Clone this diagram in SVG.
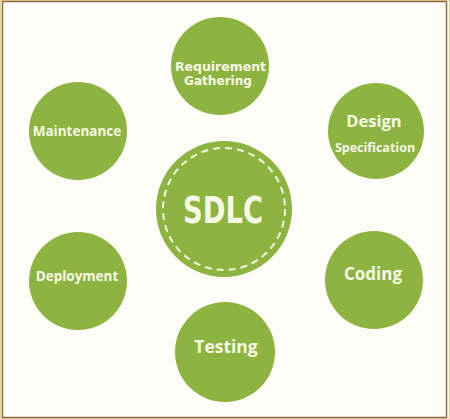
<svg xmlns="http://www.w3.org/2000/svg" width="450" height="419" viewBox="0 0 450 419">
<style>
.node{fill:#8db340}
.lbl{fill:#f7f9e6;font-family:"Open Sans","Liberation Sans",sans-serif;font-weight:700;text-anchor:middle}
.cond{fill:#f7f9e6;font-family:"DejaVu Sans Condensed","DejaVu Sans","Liberation Sans",sans-serif;font-stretch:condensed;font-weight:700;text-anchor:middle}
</style>
<rect x="0" y="0" width="450" height="419" fill="#fffdf8"/>
<rect x="0.5" y="0.5" width="449" height="418" fill="none" stroke="#ecd594" stroke-width="1"/>
<rect x="2.5" y="1.5" width="444" height="416" fill="none" stroke="#8c6d43" stroke-width="1.5"/>
<g id="connectors"></g>
<g id="sdlc">
<circle class="node" cx="224" cy="209" r="68"/>
<circle cx="224" cy="209" r="61" fill="none" stroke="#f4f7e2" stroke-width="2" stroke-dasharray="7 5"/>
<text class="cond" x="223" y="223" font-size="38" textLength="80" lengthAdjust="spacingAndGlyphs">SDLC</text>
</g>
<g id="requirement">
<circle class="node" cx="220" cy="66" r="49"/>
<text class="cond" x="220.5" y="70.5" font-size="12.5" textLength="91" lengthAdjust="spacingAndGlyphs">Requirement</text>
<text class="cond" x="218" y="85" font-size="12.5" textLength="68" lengthAdjust="spacingAndGlyphs">Gathering</text>
</g>
<g id="design">
<circle class="node" cx="376" cy="131" r="48"/>
<text class="lbl" x="374" y="127" font-size="16.5">Design</text>
<text class="lbl" x="375" y="152" font-size="12.5">Specification</text>
</g>
<g id="maintenance">
<circle class="node" cx="78" cy="131" r="49"/>
<text class="lbl" x="77" y="136" font-size="13.5">Maintenance</text>
</g>
<g id="deployment">
<circle class="node" cx="78" cy="281" r="49"/>
<text class="lbl" x="77" y="281" font-size="13.5">Deployment</text>
</g>
<g id="coding">
<circle class="node" cx="374" cy="280" r="49"/>
<text class="lbl" x="373" y="280" font-size="17">Coding</text>
</g>
<g id="testing">
<circle class="node" cx="225" cy="352" r="50"/>
<text class="lbl" x="226" y="353" font-size="17.5">Testing</text>
</g>
</svg>
